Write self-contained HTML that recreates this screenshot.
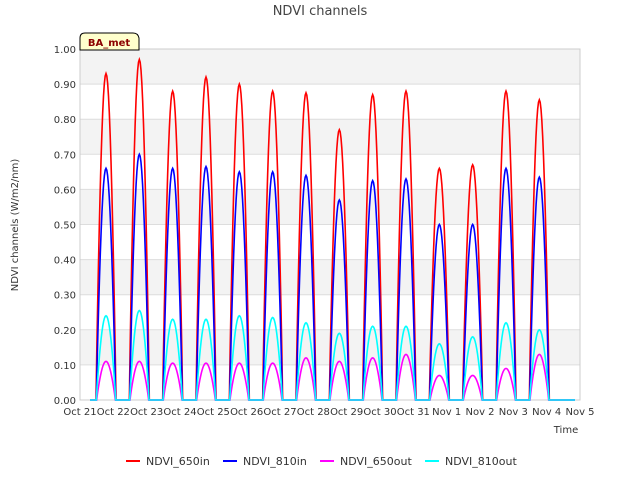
<!DOCTYPE html>
<html><head><meta charset="utf-8">
<style>
body{margin:0;background:#fff;font-family:"Liberation Sans","DejaVu Sans",sans-serif;}
svg text{font-family:"DejaVu Sans","Liberation Sans",sans-serif;}
</style></head>
<body>
<svg id="chart" width="640" height="480" viewBox="0 0 640 480" xmlns="http://www.w3.org/2000/svg">
<rect width="640" height="480" fill="#fff"/>
<g id="bands"></g>
<g id="grid"></g>
<rect x="80" y="49" width="500" height="351" fill="none" stroke="#ccc"/>
<g id="series"></g>
<g id="yticks"></g>
<g id="xticks"></g>
<text x="320" y="15" text-anchor="middle" font-size="13" fill="#444">NDVI channels</text>
<text transform="translate(18,225) rotate(-90)" text-anchor="middle" font-size="10" fill="#333">NDVI channels (W/m2/nm)</text>
<text x="566" y="433" text-anchor="middle" font-size="10" fill="#333">Time</text>
<g>
<path d="M80,50 L80,38 Q80,33 85,33 L133,33 Q138,33 139,38 L139,50 Z" fill="#ffffcc" stroke="#000" stroke-width="1"/>
<text x="109" y="46" text-anchor="middle" font-size="10" font-weight="bold" fill="#8b0000">BA_met</text>
</g>
<g id="legend"></g>
</svg>
<script>
const dayLabels=["Oct 21","Oct 22","Oct 23","Oct 24","Oct 25","Oct 26","Oct 27","Oct 28","Oct 29","Oct 30","Oct 31","Nov 1","Nov 2","Nov 3","Nov 4","Nov 5"];
const yTickLabels=["0.00","0.10","0.20","0.30","0.40","0.50","0.60","0.70","0.80","0.90","1.00"];
const peakDays=[0,1,2,3,4,5,6,7,8,9,10,11,12,13];
const red650in=[0.93,0.97,0.88,0.92,0.90,0.88,0.875,0.77,0.87,0.88,0.66,0.67,0.88,0.855];
const blue810in=[0.66,0.70,0.66,0.665,0.65,0.65,0.64,0.57,0.625,0.63,0.50,0.50,0.66,0.635];
const mag650out=[0.11,0.11,0.105,0.105,0.105,0.105,0.12,0.11,0.12,0.13,0.07,0.07,0.09,0.13];
const cyan810out=[0.24,0.255,0.23,0.23,0.24,0.235,0.22,0.19,0.21,0.21,0.16,0.18,0.22,0.20];
const NS="http://www.w3.org/2000/svg";
const X0=80,X1=580,Y0=400,Y1=49;
const xs=d=>X0+(X1-X0)*d/15;
const ys=v=>Y0-(Y0-Y1)*v;
function el(t,a,p){const e=document.createElementNS(NS,t);for(const k in a)e.setAttribute(k,a[k]);p.appendChild(e);return e;}
const bands=document.getElementById('bands'),grid=document.getElementById('grid');
for(let i=0;i<10;i++){
 if(i%2==1){const r=el('rect',{x:X0,y:ys((i+1)/10),width:X1-X0,height:ys(i/10)-ys((i+1)/10),fill:'#f3f3f3'},bands);
 
 }
}
const yt=document.getElementById('yticks');
yTickLabels.forEach((l,i)=>{
 const v=i/10;
 const g=el('line',{x1:X0,x2:X1,y1:ys(v),y2:ys(v),stroke:'#ddd'},grid);
 
 
 const t=el('text',{x:X0-4,y:ys(v)+4,'text-anchor':'end','font-size':'10',fill:'#333'},yt);
 t.textContent=l;
 
 
});
const xt=document.getElementById('xticks');
dayLabels.forEach((l,i)=>{
 const t=el('text',{x:xs(i),y:415,'text-anchor':'middle','font-size':'10',fill:'#333'},xt);
 t.textContent=l;
 
 
});
function seriesPath(peaks,hw){
 let d=`M${xs(0.3)},${ys(0)}`;
 peakDays.forEach((day,i)=>{
  const c=day+0.78;
  d+=` L${xs(c-hw)},${ys(0)}`;
  for(let k=1;k<=24;k++){const t=k/24;const x=c-hw+2*hw*t;const v=peaks[i]*Math.pow(Math.sin(Math.PI*t),0.9);d+=` L${xs(x)},${ys(v)}`;}
 });
 d+=` L${xs(14.85)},${ys(0)}`;
 return d;
}
const sg=document.getElementById('series');
const series=[["NDVI_650in",red650in,"#ff0000",0.3],["NDVI_810in",blue810in,"#0000ff",0.29],["NDVI_650out",mag650out,"#ff00ff",0.28],["NDVI_810out",cyan810out,"#00ffff",0.29]];
series.forEach(s=>{
 const p=el('path',{d:seriesPath(s[1],s[3]),fill:'none',stroke:s[2],'stroke-width':'1.6'},sg);
 
 
});
const lg=document.getElementById('legend');
const lx=[126,223,320,425];
series.forEach((s,i)=>{
 const g=el('g',{},lg);
 
 
 el('line',{x1:lx[i],x2:lx[i]+14,y1:461,y2:461,stroke:s[2],'stroke-width':'2'},g);
 const t=el('text',{x:lx[i]+20,y:465,'font-size':'11',fill:'#333'},g);
 t.textContent=s[0];
});
</script>
</body></html>
